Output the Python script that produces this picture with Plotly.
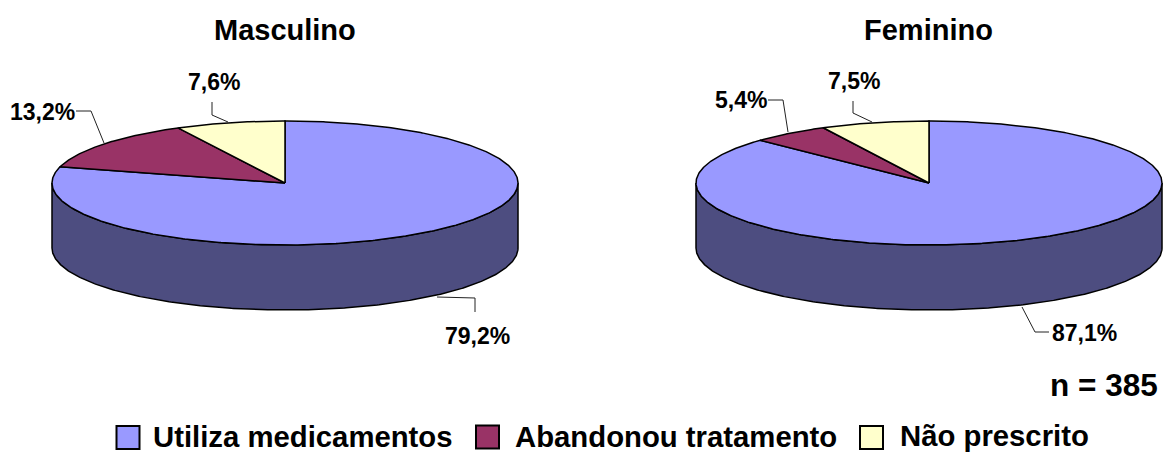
import numpy as np
import plotly.graph_objects as go

# Data
categories = ["Utiliza medicamentos", "Abandonou tratamento", "Não prescrito"]
masculino_values = [79.2, 13.2, 7.6]
feminino_values = [87.1, 5.4, 7.5]
group_titles = ["Masculino", "Feminino"]
sample_note = "n = 385"

# Styling
FONT = "Liberation Sans, Arial, sans-serif"
top_colors = ["#9999FF", "#993366", "#FFFFCC"]
wall_colors = ["#4D4D80", "#4D1A33", "#808066"]
WIDTH, HEIGHT = 1163, 453
RX, RY, DEPTH = 233, 62, 65
CENTERS = [(285, 183), (929, 183)]
# Key layout: swatch centre and text start per entry
KEY_SWATCH_X = [128, 487.5, 871.5]
KEY_TEXT_X = [151, 513, 898]
KEY_Y = [437.5, 437, 437.5]
KEY_TEXT_Y = [436, 436, 435]


def rim(cx, cy, start, stop, drop=0):
    """Points on the tilted disc rim between two clockwise angles from 12 o'clock."""
    t = np.radians(np.linspace(start, stop, max(int(abs(stop - start) * 2), 2)))
    return cx + RX * np.sin(t), cy - RY * np.cos(t) + drop


def add_pie(fig, values, center):
    cx, cy = center
    edges = np.concatenate([[0], np.cumsum(values) / np.sum(values) * 360])
    # Side wall: only the part of the rim facing the viewer
    for i in range(len(values)):
        a, b = max(edges[i], 90), min(edges[i + 1], 270)
        if a < b:
            x1, y1 = rim(cx, cy, a, b)
            x2, y2 = rim(cx, cy, b, a, DEPTH)
            fig.add_trace(go.Scatter(
                x=np.r_[x1, x2, x1[0]], y=np.r_[y1, y2, y1[0]],
                mode="lines", fill="toself", fillcolor=wall_colors[i],
                line=dict(color="black", width=1.5), showlegend=False, hoverinfo="skip",
            ))
    # Top face
    for i in range(len(values)):
        x, y = rim(cx, cy, edges[i], edges[i + 1])
        fig.add_trace(go.Scatter(
            x=np.r_[cx, x, cx], y=np.r_[cy, y, cy],
            mode="lines", fill="toself", fillcolor=top_colors[i],
            line=dict(color="black", width=1.5), showlegend=False,
            name=categories[i], text=f"{values[i]:.1f}%", hoverinfo="name+text",
        ))


fig = go.Figure()
add_pie(fig, masculino_values, CENTERS[0])
add_pie(fig, feminino_values, CENTERS[1])

# Data labels with their leader lines: (value, label x, label y, leader path)
fmt = lambda v: f"{v:.1f}%".replace(".", ",")
labels = [
    (masculino_values[0], 477, 336, [(437, 297), (475, 298), (475, 312)]),
    (masculino_values[1], 42, 112, [(76, 111), (91, 111), (104, 143)]),
    (masculino_values[2], 214, 82, [(212, 102), (212, 115), (228, 122)]),
    (feminino_values[0], 1084, 333, [(1022, 307), (1035, 332), (1049, 332)]),
    (feminino_values[1], 741, 100, [(768, 100), (783, 100), (788, 132)]),
    (feminino_values[2], 854, 81, [(853, 101), (853, 113), (872, 122)]),
]
annotations = []
for value, lx, ly, path in labels:
    fig.add_trace(go.Scatter(
        x=[p[0] for p in path], y=[p[1] for p in path], mode="lines",
        line=dict(color="#222222", width=1), showlegend=False, hoverinfo="skip",
    ))
    annotations.append(dict(x=lx, y=ly, text=f"<b>{fmt(value)}</b>", showarrow=False,
                            font=dict(size=23, color="black", family=FONT)))

for title, (cx, _) in zip(group_titles, CENTERS):
    annotations.append(dict(x=cx - 0.5, y=30, text=f"<b>{title}</b>", showarrow=False,
                            font=dict(size=29, color="black", family=FONT)))
annotations.append(dict(x=1104, y=385, text=f"<b>{sample_note}</b>", showarrow=False,
                        font=dict(size=31.5, color="black", family=FONT)))

# Key: square swatches with bold captions
for i, name in enumerate(categories):
    fig.add_trace(go.Scatter(
        x=[KEY_SWATCH_X[i]], y=[KEY_Y[i]], mode="markers", name=name, showlegend=False,
        marker=dict(symbol="square", size=23, color=top_colors[i], line=dict(color="black", width=2)),
        hoverinfo="name",
    ))
    annotations.append(dict(x=KEY_TEXT_X[i], y=KEY_TEXT_Y[i], text=f"<b>{name}</b>", showarrow=False,
                            xanchor="left", font=dict(size=29.3, color="black", family=FONT)))

fig.update_layout(
    width=WIDTH, height=HEIGHT,
    margin=dict(l=0, r=0, t=0, b=0),
    paper_bgcolor="white", plot_bgcolor="white",
    showlegend=False,
    xaxis=dict(range=[0, WIDTH], visible=False, fixedrange=True),
    yaxis=dict(range=[HEIGHT, 0], visible=False, fixedrange=True),
    annotations=annotations,
)

fig.write_html("out.html", config=dict(displayModeBar=False))
